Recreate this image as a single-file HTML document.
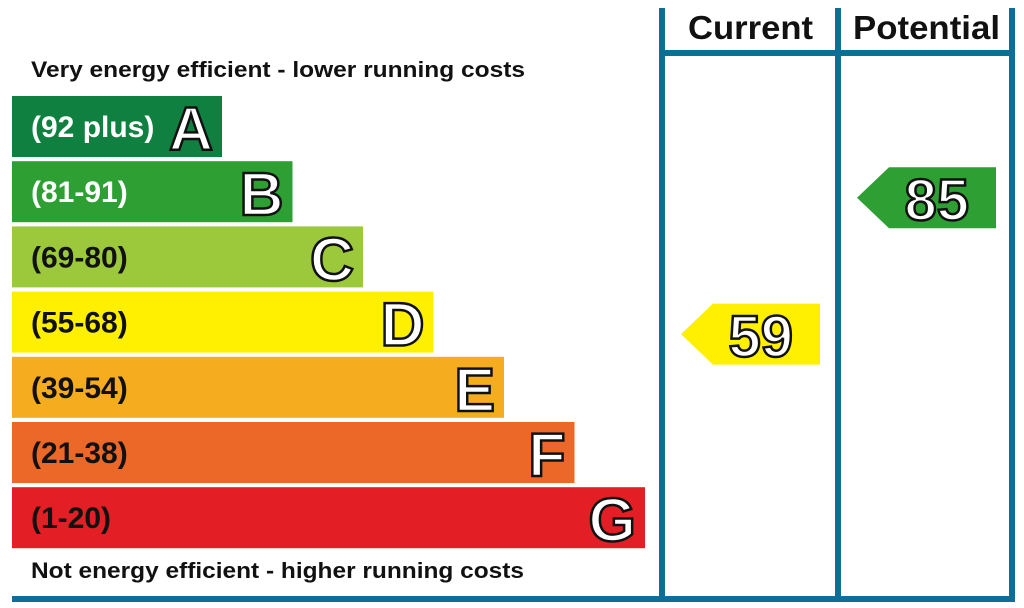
<!DOCTYPE html>
<html><head><meta charset="utf-8"><style>
html,body{margin:0;padding:0;background:#fff;}
svg{display:block;font-family:"Liberation Sans",Arial,sans-serif;font-weight:bold;}
</style></head><body>
<svg id="chart" width="1024" height="608" viewBox="0 0 1024 608" xmlns="http://www.w3.org/2000/svg">
<text x="31" y="77" font-size="22" textLength="494" lengthAdjust="spacingAndGlyphs" fill="#111">Very energy efficient - lower running costs</text>
<text x="31" y="578" font-size="22" textLength="493" lengthAdjust="spacingAndGlyphs" fill="#111">Not energy efficient - higher running costs</text>
<g id="bands"></g>
<g id="frame" fill="#0e6e9a">
<rect x="659" y="8" width="6" height="594"/>
<rect x="835" y="8" width="6" height="594"/>
<rect x="1009" y="8" width="6" height="594"/>
<rect x="659" y="50" width="356" height="6"/>
<rect x="12" y="596" width="1003" height="6"/>
</g>
<text x="688" y="39" font-size="33" textLength="125" lengthAdjust="spacingAndGlyphs" fill="#111">Current</text>
<text x="853" y="39" font-size="33" textLength="147" lengthAdjust="spacingAndGlyphs" fill="#111">Potential</text>
<g id="arrows"></g>
</svg>
<script>
const letters = ["A","B","C","D","E","F","G"];
const ranges = ["(92 plus)","(81-91)","(69-80)","(55-68)","(39-54)","(21-38)","(1-20)"];
const minScores = [92,81,69,55,39,21,1];
const colors = ["#0f8040","#2d9f33","#9cc93c","#ffef00","#f5ad1f","#ec6828","#e31e25"];
const textColors = ["#fff","#fff","#111","#111","#111","#111","#111"];
const currentScore = 59;
const potentialScore = 85;

const NS = "http://www.w3.org/2000/svg";
const top0 = 96, pitch = 65.2, bh = 61, x0 = 12, w0 = 210, dw = 70.5;
function bandY(i){ return top0 + i*pitch; }
function bandIndex(v){ for(let i=0;i<minScores.length;i++){ if(v>=minScores[i]) return i; } return minScores.length-1; }

const bands = document.getElementById("bands");
letters.forEach((L,i)=>{
  const y = bandY(i), w = w0 + i*dw;
  const r = document.createElementNS(NS,"rect");
  r.setAttribute("x",x0); r.setAttribute("y",y); r.setAttribute("width",w); r.setAttribute("height",bh);
  r.setAttribute("fill",colors[i]);
  
  
  bands.appendChild(r);
  const t = document.createElementNS(NS,"text");
  t.setAttribute("x",31); t.setAttribute("y",y+41); t.setAttribute("font-size","30"); t.setAttribute("fill",textColors[i]);
  t.textContent = ranges[i];
  
  
  bands.appendChild(t);
  const l = document.createElementNS(NS,"text");
  l.setAttribute("x",x0+w-9); l.setAttribute("y",y+54); l.setAttribute("font-size","61"); l.setAttribute("text-anchor","end");
  l.setAttribute("fill","#fff"); l.setAttribute("stroke","#111"); l.setAttribute("stroke-width","2.5");
  l.textContent = L;
  
  
  bands.appendChild(l);
});

const arrows = document.getElementById("arrows");
function arrow(v, xl, xr, name){
  const i = bandIndex(v), y = bandY(i)+ (i===3?12:6);
  const h = 61, notch = 32;
  const p = document.createElementNS(NS,"polygon");
  p.setAttribute("points", `${xl},${y+h/2} ${xl+notch},${y} ${xr},${y} ${xr},${y+h} ${xl+notch},${y+h}`);
  p.setAttribute("fill", colors[i]);
  
  
  arrows.appendChild(p);
  const t = document.createElementNS(NS,"text");
  t.setAttribute("x",xr-27); t.setAttribute("y",y+53); t.setAttribute("font-size","58"); t.setAttribute("text-anchor","end");
  t.setAttribute("fill","#fff"); t.setAttribute("stroke","#111"); t.setAttribute("stroke-width","2.5");
  t.textContent = v;
  
  
  arrows.appendChild(t);
}
arrow(currentScore, 681, 820, "current");
arrow(potentialScore, 857, 996, "potential");
</script>
</body></html>
